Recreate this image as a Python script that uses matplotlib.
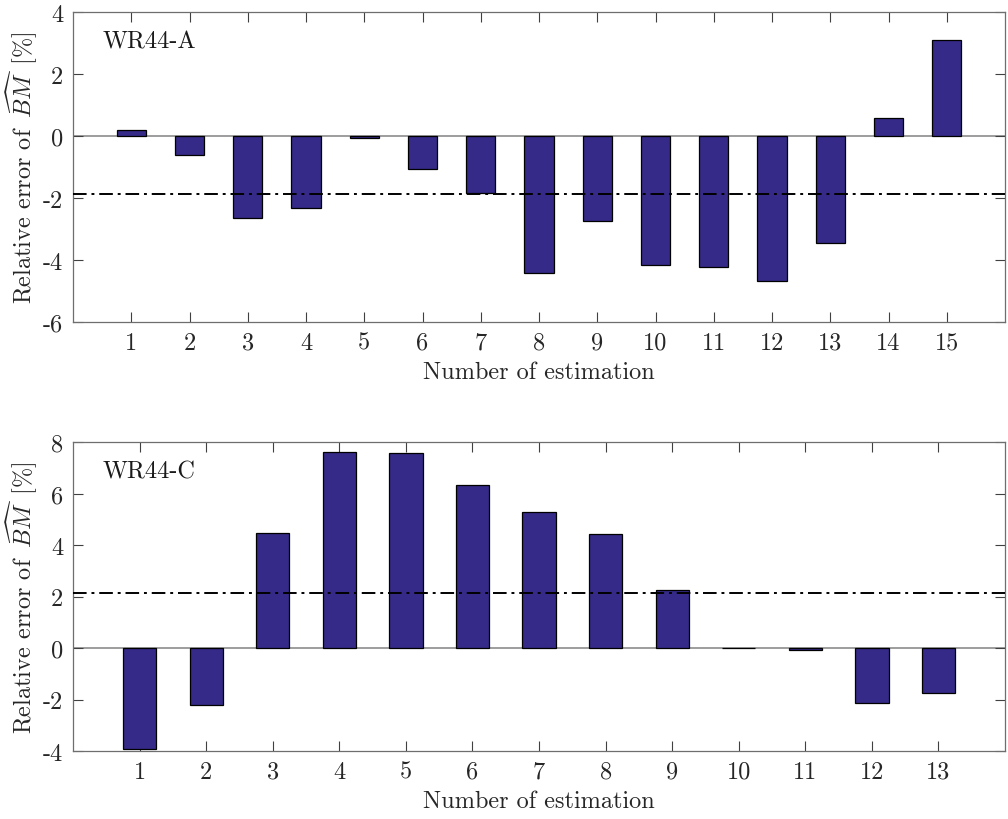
import numpy as np
import matplotlib
matplotlib.use("Agg")
import matplotlib.pyplot as plt

plt.rcParams["font.family"] = "serif"
plt.rcParams["font.serif"] = ["cmr10"]
plt.rcParams["mathtext.fontset"] = "cm"
plt.rcParams["axes.unicode_minus"] = False
plt.rcParams["axes.formatter.use_mathtext"] = True

# data
est_a = list(range(1, 16))
err_a = [0.18, -0.60, -2.63, -2.32, -0.06, -1.05, -1.85, -4.41, -2.75, -4.16,
         -4.22, -4.67, -3.44, 0.58, 3.11]
est_c = list(range(1, 14))
err_c = [-3.93, -2.20, 4.45, 7.63, 7.58, 6.34, 5.29, 4.42, 2.24, 0.01,
         -0.06, -2.13, -1.73]

yticks_a = [-6, -4, -2, 0, 2, 4]
yticks_c = [-4, -2, 0, 2, 4, 6, 8]

bar_color = "#352A87"
axis_color = "#404040"
fs = 17.5


def draw(ax, x, y, yticks, name):
    ax.axhline(0, color="#8c8c8c", lw=1.2, zorder=1)
    ax.bar(x, y, width=0.5, color=bar_color, edgecolor="black", lw=0.9, zorder=2)
    ax.axhline(np.mean(y), color="black", lw=1.4, ls=(0, (7, 2.5, 1.5, 2.5)), zorder=3)
    ax.set_xlim(0, len(x) + 1)
    ax.set_ylim(yticks[0], yticks[-1])
    ax.set_xticks(x)
    ax.set_xticklabels([str(v) for v in x])
    ax.set_yticks(yticks)
    ax.set_yticklabels([str(v) for v in yticks])
    ax.tick_params(direction="in", length=7, width=0.8, top=True, right=True,
                   labelsize=fs, colors=axis_color, labelcolor="#262626", pad=7)
    for s in ax.spines.values():
        s.set_color("#6e6e6e")
        s.set_linewidth(0.9)
    ax.set_xlabel("Number of estimation", fontsize=fs, color="#262626", labelpad=5)
    ax.set_ylabel(r"Relative error of $\,\widehat{BM}\,$ [%]", fontsize=fs, color="#262626",
                  labelpad=2)
    ax.text(0.032, 0.905, name, transform=ax.transAxes, fontsize=fs,
            va="center", ha="left", color="#1a1a1a")


fig = plt.figure(figsize=(10.08, 8.2), dpi=100)
ax1 = fig.add_axes([73 / 1008, 1 - 323 / 820, 932 / 1008, 310 / 820])
ax2 = fig.add_axes([73 / 1008, 1 - 752 / 820, 932 / 1008, 309 / 820])

draw(ax1, est_a, err_a, yticks_a, "WR44-A")
draw(ax2, est_c, err_c, yticks_c, "WR44-C")

fig.savefig("out.png", dpi=100)
